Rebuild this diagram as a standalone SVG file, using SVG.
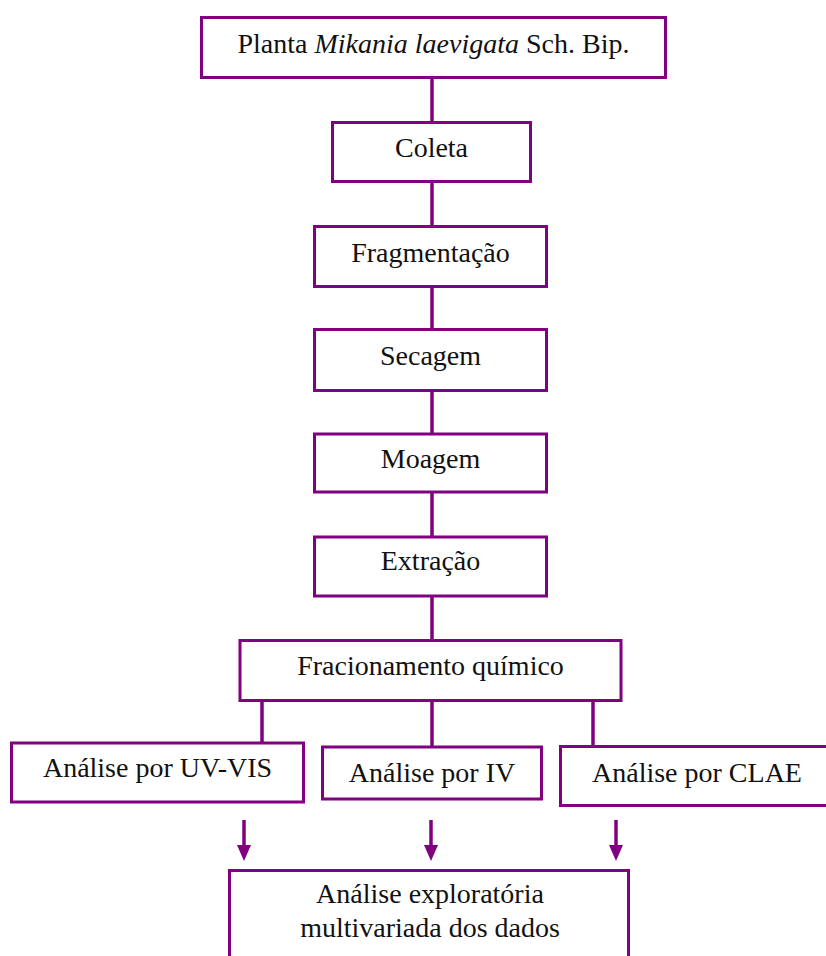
<svg xmlns="http://www.w3.org/2000/svg" width="826" height="956" viewBox="0 0 826 956">
<style>
.box{fill:#fff;stroke:#800080;stroke-width:3}
.lbl{font-family:"Liberation Serif","Times New Roman",serif;font-size:28px;fill:#111;text-anchor:middle}
.con{stroke:#800080;stroke-width:3.5;fill:none}
.ah{fill:#800080}
</style>
<rect width="826" height="956" fill="#fff"/>
<g id="connectors">
<line class="con" x1="432" y1="79" x2="432" y2="122"/>
<line class="con" x1="432" y1="183" x2="432" y2="226"/>
<line class="con" x1="432" y1="288" x2="432" y2="329"/>
<line class="con" x1="432" y1="392" x2="432" y2="434"/>
<line class="con" x1="432" y1="493" x2="432" y2="537"/>
<line class="con" x1="432" y1="597" x2="432" y2="640"/>
<line class="con" x1="262" y1="702" x2="262" y2="743"/>
<line class="con" x1="432" y1="702" x2="432" y2="747"/>
<line class="con" x1="593" y1="702" x2="593" y2="746"/>
<line class="con" x1="244" y1="820" x2="244" y2="848"/>
<polygon class="ah" points="237,845 251,845 244,861"/>
<line class="con" x1="431" y1="820" x2="431" y2="848"/>
<polygon class="ah" points="424,845 438,845 431,861"/>
<line class="con" x1="616" y1="820" x2="616" y2="848"/>
<polygon class="ah" points="609,845 623,845 616,861"/>
</g>
<g id="n-planta">
<rect class="box" x="201.5" y="17.5" width="464" height="60"/>
<text class="lbl" x="433.5" y="53">Planta <tspan font-style="italic">Mikania laevigata</tspan> Sch. Bip.</text>
</g>
<g id="n-coleta">
<rect class="box" x="332.5" y="122.5" width="198" height="59"/>
<text class="lbl" x="431.5" y="157">Coleta</text>
</g>
<g id="n-fragmentacao">
<rect class="box" x="314.5" y="226.5" width="232" height="60"/>
<text class="lbl" x="430.5" y="262">Fragmentação</text>
</g>
<g id="n-secagem">
<rect class="box" x="314.5" y="329.5" width="232" height="61"/>
<text class="lbl" x="430.5" y="365">Secagem</text>
</g>
<g id="n-moagem">
<rect class="box" x="314.5" y="434" width="232" height="58"/>
<text class="lbl" x="430.5" y="468">Moagem</text>
</g>
<g id="n-extracao">
<rect class="box" x="314.5" y="537" width="232" height="59"/>
<text class="lbl" x="430.5" y="570">Extração</text>
</g>
<g id="n-fracionamento">
<rect class="box" x="240" y="640.5" width="381" height="60"/>
<text class="lbl" x="430.5" y="675">Fracionamento químico</text>
</g>
<g id="n-uvvis">
<rect class="box" x="11.5" y="743" width="292" height="59"/>
<text class="lbl" x="157.5" y="777">Análise por UV-VIS</text>
</g>
<g id="n-iv">
<rect class="box" x="322.5" y="747" width="219" height="52"/>
<text class="lbl" x="432" y="782">Análise por IV</text>
</g>
<g id="n-clae">
<rect class="box" x="560.5" y="746.5" width="272" height="59"/>
<text class="lbl" x="697" y="782">Análise por CLAE</text>
</g>
<g id="n-analise">
<rect class="box" x="229.5" y="870.5" width="399" height="110"/>
<text class="lbl" x="430" y="903">Análise exploratória</text>
<text class="lbl" x="430" y="937">multivariada dos dados</text>
</g>
</svg>
